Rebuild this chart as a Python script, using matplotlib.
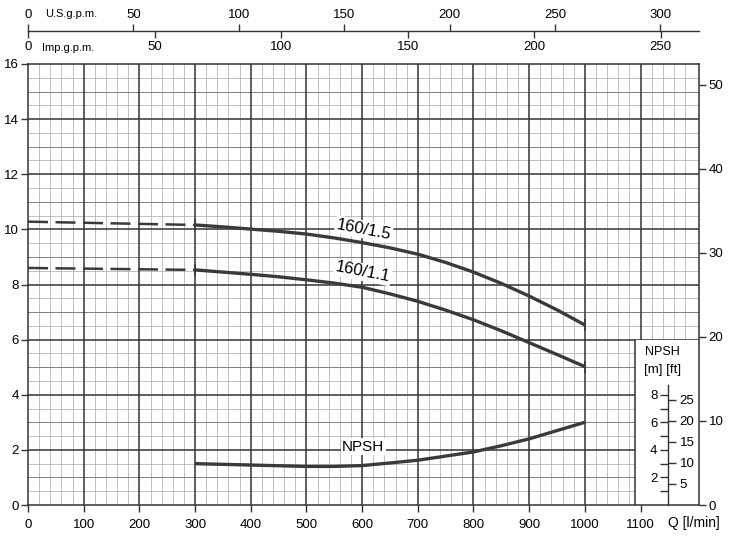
import numpy as np
import matplotlib.pyplot as plt
from matplotlib.patches import Rectangle

plt.rcParams['font.family'] = ['Liberation Sans', 'DejaVu Sans']
plt.rcParams['font.size'] = 10

# flow in l/min
q_solid = [300, 350, 400, 450, 500, 550, 600, 650, 700, 750, 800, 850, 900, 950, 1000]
h_160_15 = [10.16, 10.09, 10.01, 9.93, 9.83, 9.69, 9.52, 9.33, 9.1, 8.8, 8.45, 8.04, 7.58, 7.08, 6.53]
h_160_11 = [8.53, 8.45, 8.37, 8.28, 8.17, 8.05, 7.9, 7.66, 7.39, 7.07, 6.72, 6.32, 5.89, 5.46, 5.02]
npsh = [3.0, 2.95, 2.9, 2.85, 2.8, 2.8, 2.86, 3.05, 3.25, 3.55, 3.85, 4.3, 4.8, 5.4, 6.0]

q_dash = [0, 300]
h_dash_15 = [10.28, 10.16]
h_dash_11 = [8.6, 8.53]

x_ticks = [0, 100, 200, 300, 400, 500, 600, 700, 800, 900, 1000, 1100]
y_ticks = [0, 2, 4, 6, 8, 10, 12, 14, 16]
ft_ticks = [0, 10, 20, 30, 40, 50]
us_ticks = [0, 50, 100, 150, 200, 250, 300]
imp_ticks = [0, 50, 100, 150, 200, 250]
npsh_m_ticks = [2, 4, 6, 8]
npsh_ft_ticks = [5, 10, 15, 20, 25]

XMAX = 1205
YMAX = 16
BOX_X = 1090
M2FT = 3.2808
US = 3.7854
IMP = 4.5461
DARK = '#333333'
FS = 9.5

fig = plt.figure(figsize=(7.3, 5.36), dpi=100)
L, B, W, H = 28/730, 31/536, 671/730, 441/536
ax = fig.add_axes([L, B, W, H])
ax.set_xlim(0, XMAX)
ax.set_ylim(0, YMAX)

# grid paper
for x in np.arange(20, XMAX, 20):
    if x % 100 == 0:
        continue
    y0 = 0 if x < BOX_X else 6
    ax.plot([x, x], [y0, YMAX], color='#a8a8a8', lw=0.5, zorder=1)
for y in np.arange(0.5, YMAX, 0.5):
    x1 = XMAX if y >= 6 else BOX_X
    if y % 2 == 0:
        ax.plot([0, x1], [y, y], color=DARK, lw=1.1, zorder=2)
    elif y % 1 == 0:
        ax.plot([0, x1], [y, y], color='#808080', lw=0.7, zorder=1.5)
    else:
        ax.plot([0, x1], [y, y], color='#a8a8a8', lw=0.5, zorder=1)
for x in x_ticks[1:]:
    ax.plot([x, x], [0 if x < BOX_X else 6, YMAX], color=DARK, lw=1.1, zorder=2)

# NPSH inset box
ax.add_patch(Rectangle((BOX_X, 0), XMAX - BOX_X, 6, facecolor='white', edgecolor='none', zorder=2.5))
ax.plot([BOX_X, BOX_X], [0, 6], color=DARK, lw=1.1, zorder=3)

for s in ax.spines.values():
    s.set_linewidth(1.1)
    s.set_color(DARK)
    s.set_zorder(4)

ax.set_xticks(x_ticks)
ax.set_yticks(y_ticks)
ax.tick_params(direction='out', length=5, width=1, color=DARK, labelsize=FS)
ax.tick_params(axis='y', pad=1.5)
ax.tick_params(axis='x', pad=5)

# head curves
curve_kw = dict(color='#3a3a3a', lw=2.4, solid_capstyle='butt', zorder=5)
ends = [0, len(q_solid) - 1]
ax.plot(q_solid, h_160_15, marker='|', markevery=ends, ms=9, mew=1.2, **curve_kw)
ax.plot(q_solid, h_160_11, marker='|', markevery=ends, ms=9, mew=1.2, **curve_kw)
ax.plot(q_dash, h_dash_15, color='#3a3a3a', lw=1.8, dashes=(8, 3), zorder=5)
ax.plot(q_dash, h_dash_11, color='#3a3a3a', lw=1.8, dashes=(8, 3), zorder=5)

lbl_box = dict(facecolor='white', edgecolor='none', pad=1)
ax.text(603, 10.0, '160/1.5', rotation=-11, ha='center', va='center', fontsize=12,
        bbox=lbl_box, zorder=6)
ax.text(601, 8.45, '160/1.1', rotation=-11, ha='center', va='center', fontsize=12,
        bbox=lbl_box, zorder=6)

# NPSH curve on half scale
ax_n = ax.twinx()
ax_n.set_ylim(0, YMAX * 2)
ax_n.axis('off')
ax_n.plot(q_solid, npsh, **curve_kw)
ax.text(602, 2.12, 'NPSH', ha='center', va='center', fontsize=11, bbox=lbl_box, zorder=6)

# right axis in feet
ax_ft = ax.twinx()
ax_ft.set_ylim(0, YMAX * M2FT)
ax_ft.set_yticks(ft_ticks)
ax_ft.tick_params(direction='out', length=5, width=1, color=DARK, labelsize=FS, pad=2)
for s in ax_ft.spines.values():
    s.set_visible(False)

ax.text(1195, -0.025, 'Q [l/min]', transform=ax.get_xaxis_transform(), ha='center', va='top',
        fontsize=FS + 0.5)

# NPSH scale inside the box
sc = ax.inset_axes([1150, 0, 0.01, 4.35], transform=ax.transData)
sc.set_ylim(0, 8.7)
sc.set_xticks([])
sc.patch.set_visible(False)
for k in ['top', 'bottom', 'right']:
    sc.spines[k].set_visible(False)
sc.spines['left'].set_linewidth(1)
sc.spines['left'].set_color(DARK)
sc.set_yticks(npsh_m_ticks)
sc.set_yticks([1, 3, 5, 7], minor=True)
sc.tick_params(axis='y', which='both', direction='out', length=6, width=1, color=DARK,
               labelsize=FS, pad=2)
sc_ft = sc.twinx()
sc_ft.set_ylim(0, 8.7 * M2FT)
for k in ['top', 'bottom', 'left', 'right']:
    sc_ft.spines[k].set_visible(False)
sc_ft.set_yticks(npsh_ft_ticks)
sc_ft.tick_params(axis='y', direction='out', length=6, width=1, color=DARK, labelsize=FS, pad=2)
ax.text(1140, 5.55, 'NPSH', ha='center', va='center', fontsize=FS - 0.5, zorder=6)
ax.text(1140, 4.9, '[m] [ft]', ha='center', va='center', fontsize=FS, zorder=6)

# top flow scales (U.S. and Imperial gallons per minute)
top = fig.add_axes([L, 1 - 31/536, W, 0.0001])
top.set_xlim(0, XMAX / US)
top.patch.set_visible(False)
for k in ['bottom', 'left', 'right']:
    top.spines[k].set_visible(False)
top.spines['top'].set_linewidth(1)
top.spines['top'].set_color(DARK)
top.set_yticks([])
top.set_xticks(us_ticks)
top.tick_params(axis='x', bottom=False, labelbottom=False, top=True, labeltop=True,
                direction='out', length=5, width=1, color=DARK, labelsize=FS, pad=2)
imp = top.secondary_xaxis('bottom', functions=(lambda u: u * US / IMP, lambda i: i * IMP / US))
imp.set_xticks(imp_ticks)
imp.tick_params(direction='out', length=5, width=1, color=DARK, labelsize=FS, pad=2)
imp.spines['bottom'].set_visible(False)
top.annotate('U.S.g.p.m.', xy=(0, 1), xycoords=('data', 'axes fraction'), xytext=(12, 12),
             textcoords='offset points', ha='left', va='center', fontsize=FS - 1.5)
top.annotate('Imp.g.p.m.', xy=(0, 0), xycoords=('data', 'axes fraction'), xytext=(10, -12),
             textcoords='offset points', ha='left', va='center', fontsize=FS - 1.5)

fig.savefig('out.png', dpi=100)
